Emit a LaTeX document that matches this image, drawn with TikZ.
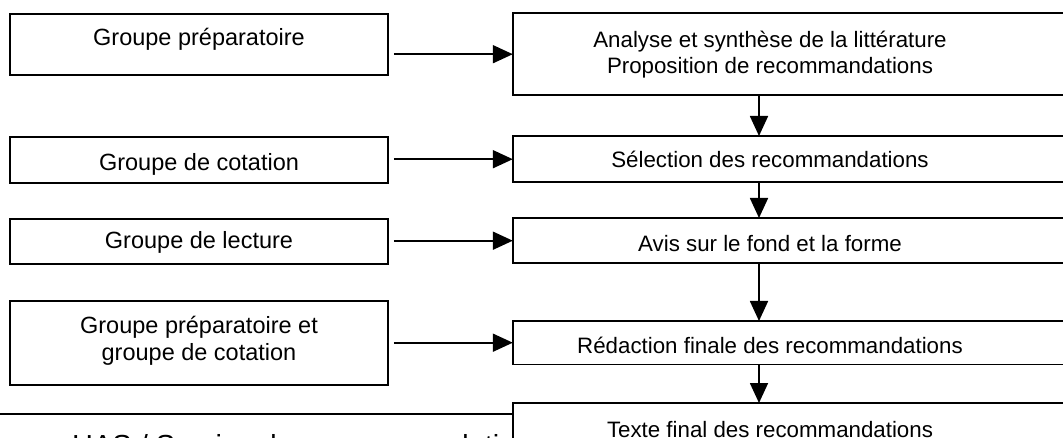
\documentclass[tikz,border=0pt]{standalone}
\usepackage{fontspec}
\setmainfont{Liberation Sans}
\usetikzlibrary{arrows.meta,calc}
\begin{document}
\begin{tikzpicture}[x=1pt,y=-1pt,
  every node/.style={font=\fontsize{23.5}{27}\selectfont},
  lbox/.style={draw, line width=1.8pt, anchor=north, inner xsep=0pt, inner ysep=0pt, minimum width=378pt, align=center},
  rbox/.style={fill=white, anchor=north, inner xsep=0pt, inner ysep=0pt, minimum width=514pt, align=center, font=\fontsize{22.3}{26}\selectfont},
  frame/.style={draw, line width=1.8pt},
  arr/.style={line width=1.8pt, -{Triangle[length=20pt,width=18pt]}},
  thin line/.style={line width=1.5pt}
]
\useasboundingbox (0,0) rectangle (1063,438);
\clip (0,0) rectangle (1063,438);

% bottom title (partly hidden)
\node[anchor=base west, inner sep=0pt, font=\fontsize{29}{33}\selectfont] (has) at (72,455) {HAS / Service des recommandations};
\coordinate (hl) at (0,414);

% left boxes
\node[lbox, text height=32pt, text depth=29pt] (L1) at (199,13) {Groupe préparatoire};
\node[lbox, text height=34pt, text depth=12pt] (L2) at (199,136) {Groupe de cotation};
\node[lbox, text height=30pt, text depth=15pt] (L3) at (199,218) {Groupe de lecture};
\node[lbox, text height=60pt, text depth=24pt] (L4) at (199,300) {Groupe préparatoire et\\groupe de cotation};

% right boxes
\node[rbox, text height=60pt, text depth=22pt] (A) at (770,13) {Analyse et synthèse de la littérature\\Proposition de recommandations};
\node[rbox, text height=31pt, text depth=15pt] (B) at (770,136) {Sélection des recommandations};
\node[rbox, text height=33pt, text depth=12pt] (C) at (770,218) {Avis sur le fond et la forme};
\node[rbox, text height=32pt, text depth=11pt] (D) at (770,321) {Rédaction finale des recommandations};
\draw[thin line] (hl) -- (hl -| D.west);
\node[rbox, text height=34pt, text depth=40pt] (E) at (770,403) {Texte final des recommandations};

\foreach \n in {A,B,C,D,E}{
  \draw[frame] (\n.north west) rectangle ([xshift=100pt]\n.south east);
}

% horizontal arrows
\draw[arr] ($(L1.east |- A.west)+(5,0)$) -- (A.west);
\draw[arr] ($(L2.east |- B.west)+(5,0)$) -- (B.west);
\draw[arr] ($(L3.east |- C.west)+(5,0)$) -- (C.west);
\draw[arr] ($(L4.east |- D.west)+(5,0)$) -- (D.west);

% vertical arrows
\draw[arr] ([xshift=-11pt]A.south) -- ([xshift=-11pt]B.north);
\draw[arr] ([xshift=-11pt]B.south) -- ([xshift=-11pt]C.north);
\draw[arr] ([xshift=-11pt]C.south) -- ([xshift=-11pt]D.north);
\draw[arr] ([xshift=-11pt]D.south) -- ([xshift=-11pt]E.north);
\end{tikzpicture}
\end{document}
